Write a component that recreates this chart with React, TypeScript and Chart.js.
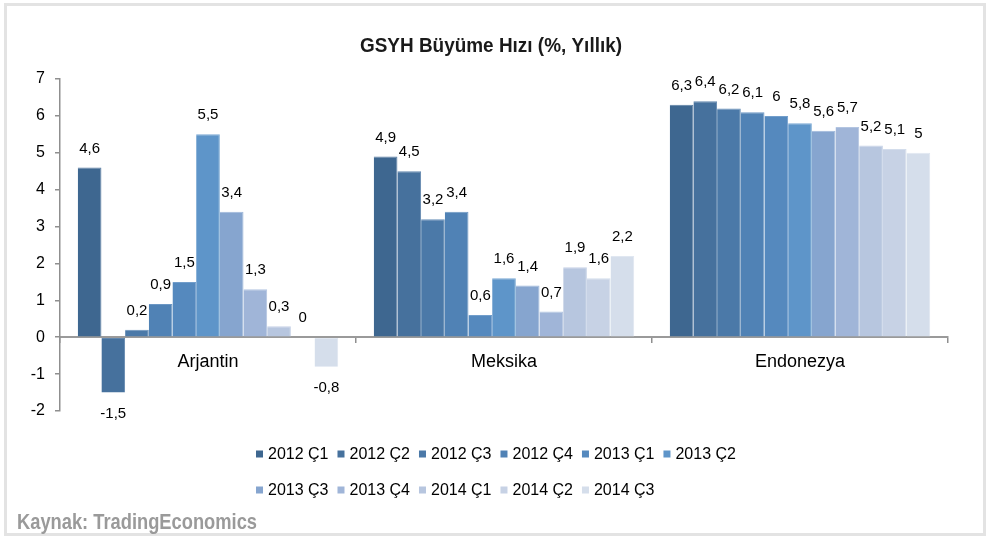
import React, { useEffect, useRef } from 'react';
import { Chart, registerables } from 'chart.js';

Chart.register(...registerables);

const categories = ['Arjantin', 'Meksika', 'Endonezya'];
const seriesLabels = ['2012 Ç1', '2012 Ç2', '2012 Ç3', '2012 Ç4', '2013 Ç1', '2013 Ç2', '2013 Ç3', '2013 Ç4', '2014 Ç1', '2014 Ç2', '2014 Ç3'];

const q2012_1 = [4.6, 4.9, 6.3];
const q2012_2 = [-1.5, 4.5, 6.4];
const q2012_3 = [0.2, 3.2, 6.2];
const q2012_4 = [0.9, 3.4, 6.1];
const q2013_1 = [1.5, 0.6, 6];
const q2013_2 = [5.5, 1.6, 5.8];
const q2013_3 = [3.4, 1.4, 5.6];
const q2013_4 = [1.3, 0.7, 5.7];
const q2014_1 = [0.3, 1.9, 5.2];
const q2014_2 = [0, 1.6, 5.1];
const q2014_3 = [-0.8, 2.2, 5];

const seriesValues = [q2012_1, q2012_2, q2012_3, q2012_4, q2013_1, q2013_2, q2013_3, q2013_4, q2014_1, q2014_2, q2014_3];

const seriesColors = ['#3e6790', '#46719d', '#4b79a8', '#5082b5', '#5589be', '#5e95c9', '#86a5cf', '#a0b5d8', '#b7c6df', '#c7d2e5', '#d5deeb'];
const seriesEdges = ['#5a7ea3', '#6287ae', '#6890b9', '#6c97c4', '#729ecb', '#7aa9d4', '#9db7da', '#b3c5e1', '#c6d2e7', '#d3ddec', '#e0e7f1'];

const yMin = -2;
const yMax = 7;
const yStep = 1;

const titleText = 'GSYH Büyüme Hızı (%, Yıllık)';
const sourceText = 'Kaynak: TradingEconomics';

const ARIAL = '"Liberation Sans", Arial, sans-serif';
const NARROW = '"Liberation Sans Narrow", "Liberation Sans", sans-serif';

const fmt = (v: number) => String(v).replace('.', ',');

function drawFitted(ctx: CanvasRenderingContext2D, text: string, x: number, y: number, width: number, align: 'left' | 'center') {
  const w = ctx.measureText(text).width;
  const s = w > width ? width / w : 1;
  ctx.save();
  ctx.translate(x, y);
  ctx.scale(s, 1);
  ctx.textAlign = align;
  ctx.textBaseline = 'middle';
  ctx.fillText(text, 0, 0);
  ctx.restore();
}

const decorPlugin = {
  id: 'decor',
  beforeDraw(chart: any) {
    const ctx = chart.ctx;
    ctx.save();
    ctx.fillStyle = '#ffffff';
    ctx.fillRect(0, 0, chart.width, chart.height);
    ctx.strokeStyle = '#e3e3e3';
    ctx.lineWidth = 3;
    ctx.strokeRect(5.5, 4.5, 979, 530);
    ctx.restore();
  },
  afterDraw(chart: any) {
    const ctx = chart.ctx;
    ctx.save();
    // title
    ctx.fillStyle = '#1a1a1a';
    ctx.font = 'bold 21px ' + NARROW;
    drawFitted(ctx, titleText, 491, 46, 262, 'center');
    // source
    ctx.fillStyle = '#9a9a9a';
    ctx.font = 'bold 22px ' + NARROW;
    drawFitted(ctx, sourceText, 17, 523, 240, 'left');
    // legend
    ctx.font = '16px ' + ARIAL;
    const box = 7;
    const gap = 5;
    const pad = 9;
    let maxW = 0;
    seriesLabels.forEach((l) => { maxW = Math.max(maxW, ctx.measureText(l).width); });
    const itemW = box + gap + maxW + pad;
    const perRow = 6;
    const row1W = perRow * itemW - pad;
    const startX = Math.round(chart.width / 2 - row1W / 2);
    const rowYs = [455, 491];
    seriesLabels.forEach((l, i) => {
      const r = Math.floor(i / perRow);
      const c = i % perRow;
      const x = startX + c * itemW;
      const y = rowYs[r];
      ctx.fillStyle = seriesColors[i];
      ctx.fillRect(x, y - box / 2 - 1, box, box);
      ctx.fillStyle = '#000';
      ctx.textAlign = 'left';
      ctx.textBaseline = 'middle';
      ctx.fillText(l, x + box + gap, y);
    });
    ctx.restore();
  },
  afterDatasetsDraw(chart: any) {
    const ctx = chart.ctx;
    ctx.save();
    ctx.font = '15px ' + ARIAL;
    ctx.fillStyle = '#000';
    ctx.textAlign = 'center';
    ctx.textBaseline = 'middle';
    chart.data.datasets.forEach((ds: any, di: number) => {
      const meta = chart.getDatasetMeta(di);
      meta.data.forEach((el: any, i: number) => {
        const v = ds.data[i];
        const y = v >= 0 ? el.y - 19 : el.y + 21;
        ctx.fillText(fmt(v), el.x, y);
      });
    });
    ctx.restore();
  },
};

export default function App() {
  const ref = useRef<HTMLCanvasElement>(null);
  useEffect(() => {
    if (!ref.current) return;
    const chart = new Chart(ref.current, {
      type: 'bar',
      data: {
        labels: categories,
        datasets: seriesValues.map((vals, i) => ({
          label: seriesLabels[i],
          data: vals,
          backgroundColor: seriesColors[i],
          borderColor: seriesEdges[i],
          borderWidth: { left: 0, right: 1, top: 1, bottom: 0 } as any,
          borderSkipped: false as any,
          categoryPercentage: 0.88,
          barPercentage: 1,
        })),
      },
      options: {
        responsive: false,
        animation: false,
        devicePixelRatio: 1,
        layout: { padding: { left: 0, right: 44, top: 79, bottom: 125 } },
        plugins: {
          legend: { display: false },
          title: { display: false },
          tooltip: { enabled: false },
        },
        scales: {
          x: {
            type: 'category',
            position: { y: 0 } as any,
            grid: {
              display: true,
              drawOnChartArea: false,
              drawTicks: true,
              tickLength: 5,
              offset: true,
              color: '#8f8f8f',
              lineWidth: 1.5,
            },
            border: { display: true, color: '#9a9a9a', width: 2 },
            ticks: { color: '#000', font: { family: ARIAL, size: 18 }, padding: 9 },
          },
          y: {
            min: yMin,
            max: yMax,
            afterFit: (scale: any) => { scale.width = 60; },
            grid: {
              display: true,
              drawOnChartArea: false,
              drawTicks: true,
              tickLength: 5,
              color: '#8f8f8f',
              lineWidth: 1.5,
            },
            border: { display: true, color: '#8f8f8f', width: 1.5 },
            ticks: { stepSize: yStep, color: '#000', font: { family: ARIAL, size: 16 }, padding: 10 },
          },
        },
      },
      plugins: [decorPlugin],
    });
    return () => chart.destroy();
  }, []);
  return (
    <div style={{ position: 'fixed', left: 0, top: 0, width: 992, height: 536, background: '#fff' }}>
      <canvas ref={ref} width={992} height={536} style={{ width: 992, height: 536, display: 'block' }} />
    </div>
  );
}
